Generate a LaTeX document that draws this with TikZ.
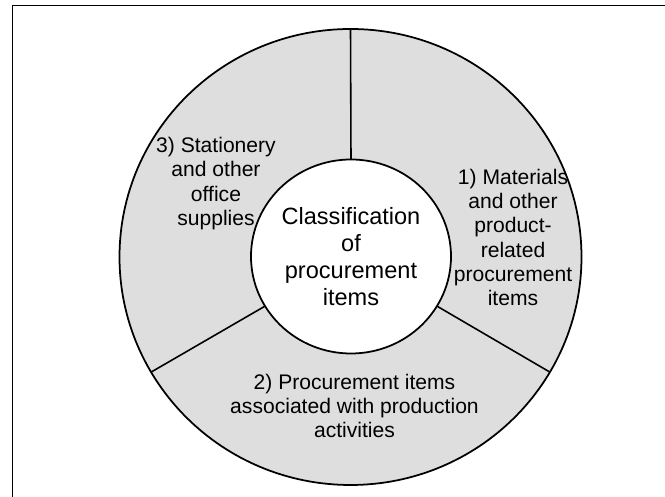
\documentclass[tikz,border=0pt]{standalone}
\usepackage{fontspec}
\setmainfont{Liberation Sans}
\usepackage{tikz}
\usetikzlibrary{shapes.geometric}
\usetikzlibrary{positioning}

\definecolor{ringgray}{HTML}{DEDEDE}

\begin{document}
\begin{tikzpicture}[
		part/.style={align=center, font=\fontsize{12}{13.8}\selectfont},
		divider/.style={line width=0.9pt}
	]
		\useasboundingbox (0,0) rectangle (13.3,9.94);
		\draw[line width=1.1pt] (0.25,-0.5) rectangle (13.8,9.83);
		
		\node[ellipse, draw, line width=1pt, fill=ringgray, inner sep=0pt, outer sep=0pt,
			minimum width=9.24cm, minimum height=9.12cm] (ring) at (7.01,4.8) {};
		\node[ellipse, draw, line width=1pt, fill=white, inner sep=0pt, outer sep=0pt,
			minimum width=4.0cm, minimum height=3.88cm, align=center,
			font=\fontsize{13.4}{15.3}\selectfont] (core) at (7.02,4.81) {Classification\\of\\procurement\\items};
		
		\draw[divider] (core.90) -- (ring.90);
		\draw[divider] (core.210) -- (ring.210);
		\draw[divider] (core.330) -- (ring.330);
		
		\node[part] (matl) at (10.26,5.19) {1) Materials\\and other\\product-\\related\\procurement\\items};
		\node[part] (prod) at (7.09,1.82) {2) Procurement items\\associated with production\\activities};
		\node[part] (stat) at (4.32,6.27) {3) Stationery\\and other\\office\\supplies};
		\end{tikzpicture}
\end{document}
